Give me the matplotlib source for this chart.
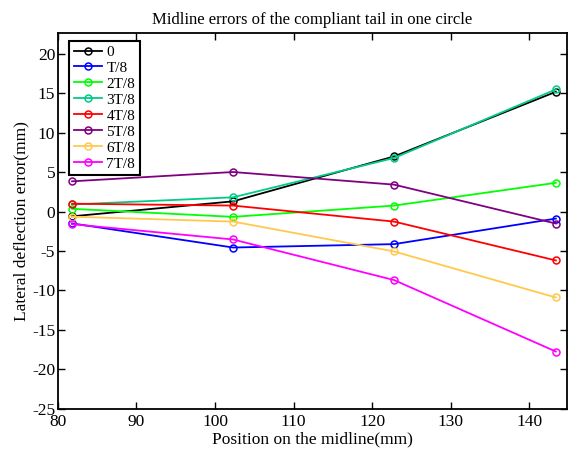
import numpy as np
import matplotlib
matplotlib.use('Agg')
import matplotlib.pyplot as plt

# posisi titik pada midline (mm)
pos = [81.8, 102.3, 122.8, 143.4]

# error lateral tiap fase (mm)
labels = ['0', 'T/8', '2T/8', '3T/8', '4T/8', '5T/8', '6T/8', '7T/8']
e0 = [-0.6, 1.3, 7.0, 15.2]
e1 = [-1.5, -4.56, -4.13, -0.89]
e2 = [0.35, -0.67, 0.76, 3.65]
e3 = [0.9, 1.81, 6.8, 15.5]
e4 = [1.0, 0.76, -1.27, -6.2]
e5 = [3.84, 5.02, 3.42, -1.52]
e6 = [-0.65, -1.27, -5.06, -10.9]
e7 = [-1.6, -3.54, -8.69, -17.76]
series = [e0, e1, e2, e3, e4, e5, e6, e7]
colors = ['black', '#0000ff', '#00ff00', '#00cc88', '#ff0000',
          '#800080', '#ffc94d', '#ff00ff']

plt.rcParams['font.family'] = ['Liberation Serif', 'DejaVu Serif']
plt.rcParams['axes.unicode_minus'] = False

fig = plt.figure(figsize=(5.68, 4.54), dpi=100)
ax = fig.add_axes([0.102, 0.1, 0.896, 0.828])

for y, c, lab in zip(series, colors, labels):
    ax.plot(pos, y, color=c, lw=1.3, marker='o', ms=5,
            mfc='none', mec=c, mew=1.1, label=lab)

ax.set_xlim(80, 144.8)
ax.set_ylim(-25, 22.7)
ax.set_xticks(np.arange(80, 141, 10))
ax.set_yticks(np.arange(-25, 21, 5))
ax.tick_params(direction='in', top=True, right=True, labelsize=12.5,
               length=5, width=1, pad=2)
ax.tick_params(axis='x', pad=4)
for s in ax.spines.values():
    s.set_linewidth(1.3)

ax.set_title('Midline errors of the compliant tail in one circle', fontsize=12, pad=6)
ax.set_xlabel('Position on the midline(mm)', fontsize=12.5, labelpad=1)
ax.set_ylabel('Lateral deflection error(mm)', fontsize=12.5, labelpad=2)

leg = ax.legend(loc='upper left', bbox_to_anchor=(0.0216, 0.979), fontsize=11,
                fancybox=False, framealpha=1, edgecolor='black',
                handlelength=1.85, handletextpad=0.3, labelspacing=0.15,
                borderpad=0.3, borderaxespad=0)
leg.get_frame().set_linewidth(1.5)

fig.savefig('out.png', dpi=100)
